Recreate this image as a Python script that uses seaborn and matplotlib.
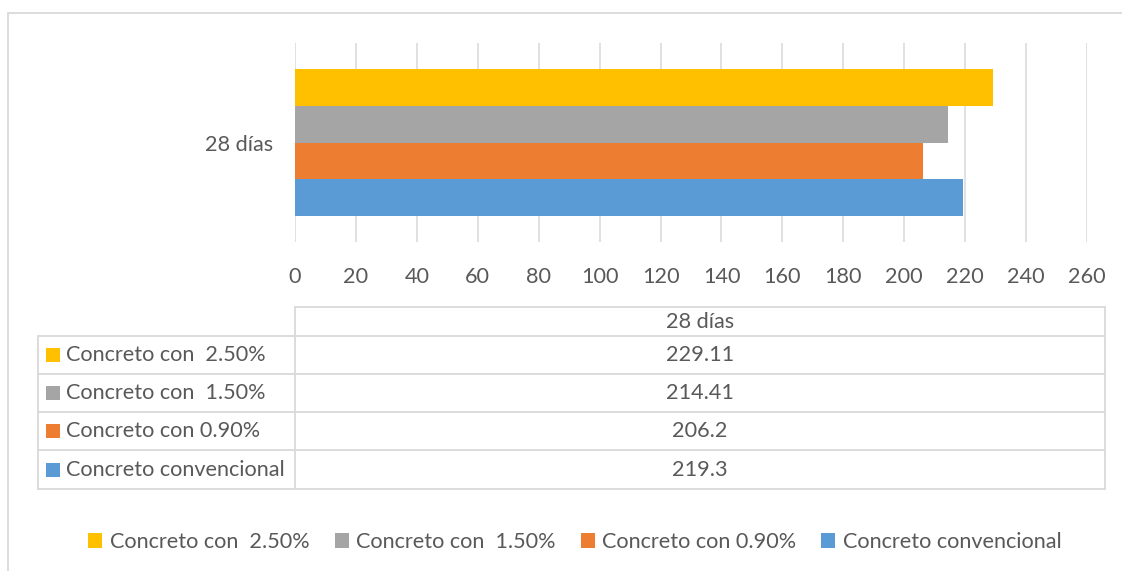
import matplotlib
matplotlib.use("Agg")
import matplotlib.pyplot as plt
import seaborn as sns
import pandas as pd
from matplotlib.patches import Rectangle

# Chart data
category = ["28 días"]
series = ["Concreto con  2.50%", "Concreto con  1.50%",
          "Concreto con 0.90%", "Concreto convencional"]
values = [229.11, 214.41, 206.2, 219.3]
colors = ["#FFC000", "#A5A5A5", "#ED7D31", "#5B9BD5"]
x_ticks = list(range(0, 261, 20))

TEXT = "#595959"
GRID = "#d9d9d9"
FS = 15.6

sns.set_theme(style="white")
plt.rcParams["font.family"] = ["Lato", "DejaVu Sans"]

W, H = 1122, 571
fig = plt.figure(figsize=(W / 100, H / 100), dpi=100)


def frac(x0, y0, x1, y1):
    return [x0 / W, 1 - y1 / H, (x1 - x0) / W, (y1 - y0) / H]


# Bar chart
ax = fig.add_axes(frac(295, 43, 1087, 242))
df = pd.DataFrame({
    "Edad": category * len(series),
    "Serie": series,
    "Resistencia": values,
})
sns.barplot(data=df, x="Resistencia", y="Edad", hue="Serie", hue_order=series,
            palette=colors, orient="h", width=0.74, saturation=1,
            linewidth=0, legend=False, ax=ax)
ax.set_xlim(0, 260)
ax.set_xticks(x_ticks)
ax.set_ylim(0.5, -0.5)
ax.set_xlabel("")
ax.set_ylabel("")
ax.grid(axis="x", color=GRID, linewidth=1.1)
ax.grid(axis="y", visible=False)
ax.set_axisbelow(True)
for s in ax.spines.values():
    s.set_visible(False)
ax.tick_params(axis="x", length=0, pad=18, labelsize=FS, labelcolor=TEXT)
ax.tick_params(axis="y", length=0, pad=16, labelsize=FS, labelcolor=TEXT)

# Overlay in pixel coordinates for the border and the data table
ov = fig.add_axes([0, 0, 1, 1])
ov.set_xlim(0, W)
ov.set_ylim(H, 0)
ov.axis("off")
ov.patch.set_alpha(0)

# Chart frame
ov.plot([8, W], [13, 13], color=GRID, lw=1.3)
ov.plot([8, 8], [13, H], color=GRID, lw=1.3)

# Data table
tx0, tx1, tx2 = 38, 295, 1105
header_top = 307
row_edges = [336, 374, 412, 450, 489]
lw_t = 1.3
ov.plot([tx1, tx2], [header_top, header_top], color=GRID, lw=lw_t)
for y in row_edges:
    ov.plot([tx0, tx2], [y, y], color=GRID, lw=lw_t)
ov.plot([tx0, tx0], [row_edges[0], row_edges[-1]], color=GRID, lw=lw_t)
ov.plot([tx1, tx1], [header_top, row_edges[-1]], color=GRID, lw=lw_t)
ov.plot([tx2, tx2], [header_top, row_edges[-1]], color=GRID, lw=lw_t)

mid = (tx1 + tx2) / 2
ov.text(mid, (header_top + row_edges[0]) / 2, category[0], ha="center",
        va="center", fontsize=FS, color=TEXT)
for i, (name, val, col) in enumerate(zip(series, values, colors)):
    yc = (row_edges[i] + row_edges[i + 1]) / 2
    ov.add_patch(Rectangle((46, yc - 7), 14, 14, facecolor=col, edgecolor="none"))
    ov.text(66, yc, name, ha="left", va="center", fontsize=FS, color=TEXT)
    ov.text(mid, yc, f"{val:g}", ha="center", va="center", fontsize=FS, color=TEXT)

# Legend
handles = [Rectangle((0, 0), 1, 1, facecolor=c, edgecolor="none") for c in colors]
fig.legend(handles=handles, labels=series, loc="center",
           bbox_to_anchor=(575 / W, 1 - 542 / H), ncol=4, frameon=False,
           handlelength=0.65, handleheight=0.65, handletextpad=0.35,
           columnspacing=1.15, fontsize=FS, labelcolor=TEXT)

fig.savefig("out.png", dpi=100)
